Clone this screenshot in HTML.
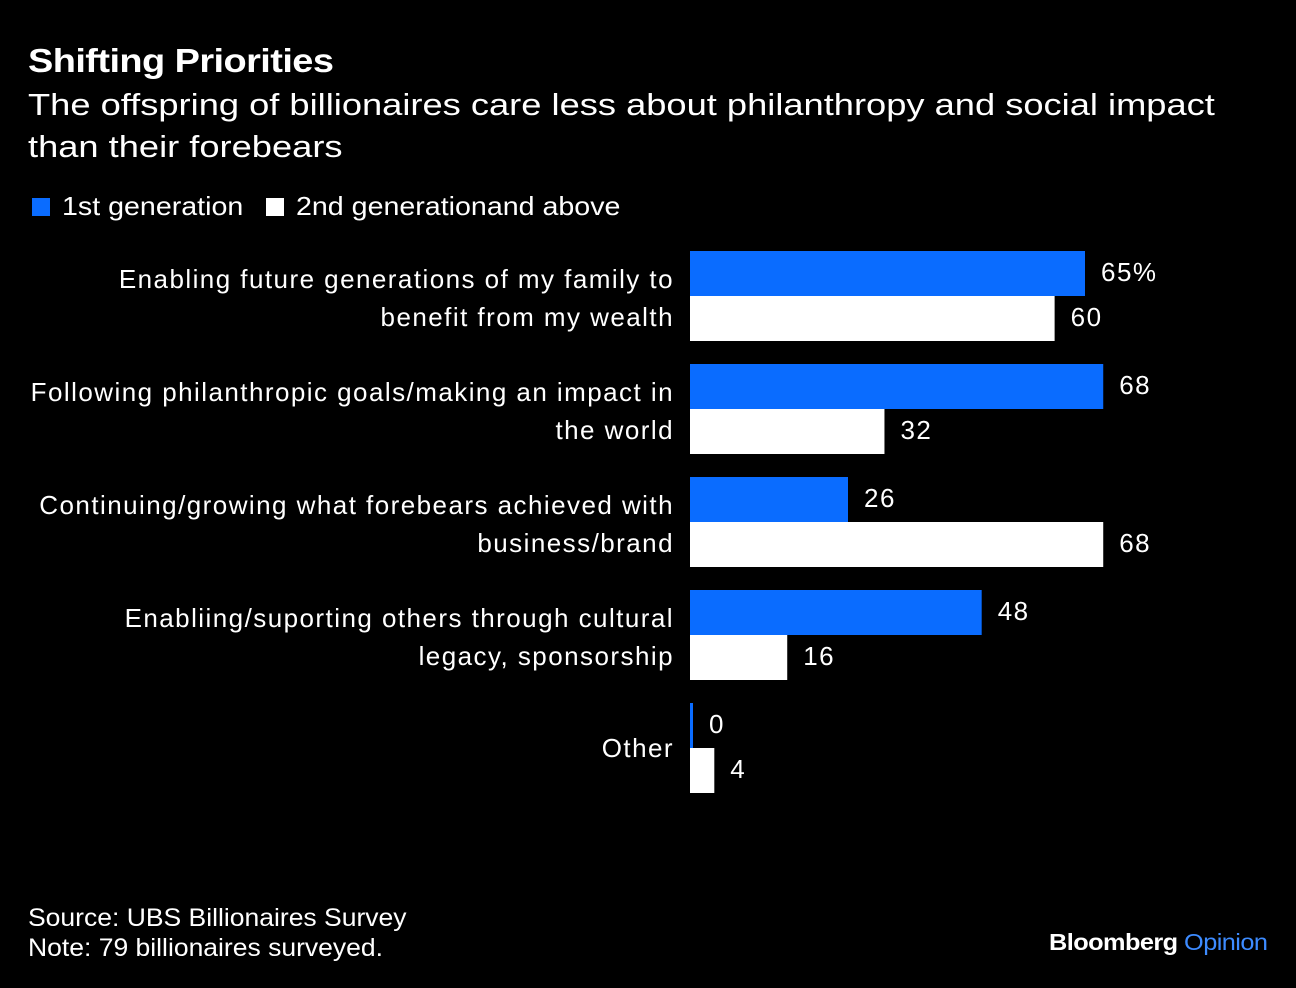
<!DOCTYPE html>
<html><head><meta charset="utf-8">
<style>
body{margin:0;background:#000;width:1296px;height:988px;overflow:hidden;font-family:"Liberation Sans",sans-serif;color:#fff;position:relative}
.t{position:absolute;white-space:nowrap;transform-origin:0 0}
</style></head><body>
<div class="t" style="left:28px;top:42px;font-size:33px;font-weight:bold;letter-spacing:-0.5px;transform:scaleX(1.15)">Shifting Priorities</div>
<div class="t" style="left:28px;top:84px;font-size:31px;line-height:42px;transform:scaleX(1.17)">The offspring of billionaires care less about philanthropy and social impact<br>than their forebears</div>
<div class="t" style="left:32px;top:191px;font-size:26px"><span style="display:inline-block;width:18px;height:18px;background:#0a6cff;margin-right:12px;vertical-align:-1px"></span><span style="display:inline-block;transform:scaleX(1.1);transform-origin:0 0">1st generation</span></div>
<div class="t" style="left:266px;top:191px;font-size:26px"><span style="display:inline-block;width:18px;height:18px;background:#fff;margin-right:12px;vertical-align:-1px"></span><span style="display:inline-block;transform:scaleX(1.1);transform-origin:0 0">2nd generationand above</span></div>
<svg id="chart" width="1296" height="988" style="position:absolute;left:0;top:0"></svg>
<div class="t" style="left:28px;top:903px;font-size:25px;line-height:30px;transform:scaleX(1.06)">Source: UBS Billionaires Survey<br>Note: 79 billionaires surveyed.</div>
<div class="t" style="left:1049px;top:929px;font-size:23px;font-weight:bold;letter-spacing:-0.5px;transform:scaleX(1.1)">Bloomberg <span style="color:#3d8bff;font-weight:normal">Opinion</span></div>
<script>
const categories=[["Enabling future generations of my family to","benefit from my wealth"],["Following philanthropic goals/making an impact in","the world"],["Continuing/growing what forebears achieved with","business/brand"],["Enabliing/suporting others through cultural","legacy, sponsorship"],["Other"]];
const firstGen=[65,68,26,48,0];
const secondGen=[60,32,68,16,4];
const svg=document.getElementById('chart');
const NS='http://www.w3.org/2000/svg';
const x0=690, k=395/65;
const xs=v=>v*k;
function mk(tag,attrs,txt){const e=document.createElementNS(NS,tag);for(const a in attrs)e.setAttribute(a,attrs[a]);if(txt!==undefined)e.textContent=txt;svg.appendChild(e);return e;}
categories.forEach((c,i)=>{
  const y=251+i*113;
  [[firstGen[i],'#0a6cff',y],[secondGen[i],'#fff',y+45]].forEach(([v,col,yy],j)=>{
    const w=Math.max(xs(v),3);
    const r=mk('rect',{x:x0,y:yy,width:w,height:45,fill:col});
    
    
    const t=mk('text',{x:x0+w+16,y:yy+30,fill:'#fff','font-size':26,'letter-spacing':'1.5'},(i===0&&j===0)?v+'%':String(v));
    
    
  });
  const cy=y+45;
  c.forEach((line,l)=>{
    const off=c.length===1?9:(l===0?-8:30);
    const t=mk('text',{x:674,y:cy+off,fill:'#fff','font-size':26,'text-anchor':'end','letter-spacing':'1.45'},line);
    
    
  });
});
</script>
</body></html>
